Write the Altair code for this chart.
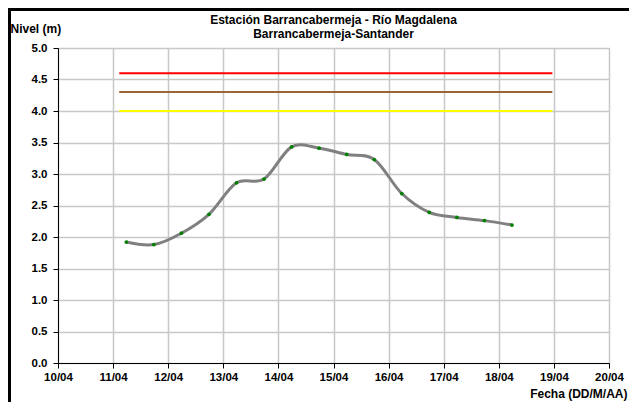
import altair as alt
import pandas as pd

# ---- data ----
fechas = [
    "2011-04-11T05:45", "2011-04-11T17:45",
    "2011-04-12T05:45", "2011-04-12T17:45",
    "2011-04-13T05:45", "2011-04-13T17:45",
    "2011-04-14T05:45", "2011-04-14T17:45",
    "2011-04-15T05:45", "2011-04-15T17:45",
    "2011-04-16T05:45", "2011-04-16T17:45",
    "2011-04-17T05:45", "2011-04-17T17:45",
    "2011-04-18T05:45",
]
niveles = [1.92, 1.88, 2.06, 2.36, 2.86, 2.92, 3.43, 3.41, 3.31, 3.23,
           2.69, 2.39, 2.31, 2.26, 2.19]

umbral_nombres = ["Roja", "Naranja", "Amarilla"]
umbral_valores = [4.6, 4.3, 4.0]
umbral_colores = ["#FF0000", "#996633", "#FFFF00"]
umbral_inicio = "2011-04-11T02:40"
umbral_fin = "2011-04-18T23:20"

dias_eje = [10, 11, 12, 13, 14, 15, 16, 17, 18, 19, 20]
niveles_eje = [0.0, 0.5, 1.0, 1.5, 2.0, 2.5, 3.0, 3.5, 4.0, 4.5, 5.0]

titulo = ["Estación Barrancabermeja - Río Magdalena", "Barrancabermeja-Santander"]

FONT = "Liberation Sans"
W, H = 551, 315

df = pd.DataFrame({"fecha": fechas, "nivel": niveles})
rows = []
for n, v in zip(umbral_nombres, umbral_valores):
    rows.append({"alerta": n, "fecha": umbral_inicio, "nivel": v})
    rows.append({"alerta": n, "fecha": umbral_fin, "nivel": v})
df_u = pd.DataFrame(rows)

x_scale = alt.Scale(
    domain=[alt.DateTime(year=2011, month=4, date=10),
            alt.DateTime(year=2011, month=4, date=20)],
    nice=False,
)
y_scale = alt.Scale(domain=[0, 5], nice=False)

x_axis = alt.Axis(
    values=[alt.DateTime(year=2011, month=4, date=d) for d in dias_eje],
    format="%d/%m",
    title="Fecha (DD/M/AA)",
    titleX=569, titleY=30, titleAlign="right", titleBaseline="middle",
    titleFont=FONT, titleFontSize=12, titleFontWeight="bold", titleColor="black",
    labelFont=FONT, labelFontSize=11.5, labelFontWeight="bold", labelColor="black",
    labelPadding=3, tickSize=5, tickColor="black", domainColor="black",
    grid=True, gridColor="#c8c8c8", gridWidth=1.5, labelFlush=False,
    labelOverlap=False,
)
y_axis = alt.Axis(
    values=niveles_eje,
    format=".1f",
    title="Nivel (m)",
    titleAngle=0, titleX=-48, titleY=-20, titleAlign="left", titleBaseline="middle",
    titleFont=FONT, titleFontSize=12, titleFontWeight="bold", titleColor="black",
    labelFont=FONT, labelFontSize=11.5, labelFontWeight="bold", labelColor="black",
    labelPadding=6, tickSize=5, tickColor="black", domainColor="black",
    grid=True, gridColor="#c8c8c8", gridWidth=1.5, labelOverlap=False,
    labelFlush=False,
)

X = alt.X("fecha:T", scale=x_scale, axis=x_axis)
Y = alt.Y("nivel:Q", scale=y_scale, axis=y_axis)

umbrales = alt.Chart(df_u).mark_line(strokeWidth=2).encode(
    x=X, y=Y,
    color=alt.Color("alerta:N",
                    scale=alt.Scale(domain=umbral_nombres, range=umbral_colores),
                    legend=None),
)

linea = alt.Chart(df).mark_line(color="#808080", strokeWidth=3,
                                interpolate="cardinal").encode(x=X, y=Y)

puntos = alt.Chart(df).mark_circle(color="#008000", size=14, opacity=1).encode(
    x=X, y=Y)

tit1 = alt.Chart(pd.DataFrame({"t": [titulo[0]]})).mark_text(
    font=FONT, fontSize=12, fontWeight="bold", color="black",
    align="center", baseline="middle").encode(
    text="t:N", x=alt.value(W / 2), y=alt.value(-28))
tit2 = alt.Chart(pd.DataFrame({"t": [titulo[1]]})).mark_text(
    font=FONT, fontSize=12, fontWeight="bold", color="black",
    align="center", baseline="middle").encode(
    text="t:N", x=alt.value(W / 2), y=alt.value(-14))

marco = pd.DataFrame({"k": [0]})
borde_izq = alt.Chart(marco).mark_rule(color="black", strokeWidth=3).encode(
    x=alt.value(-48.5), y=alt.value(-40), y2=alt.value(360))
borde_sup = alt.Chart(marco).mark_rule(color="black", strokeWidth=3).encode(
    x=alt.value(-50), x2=alt.value(580), y=alt.value(-38.5))

chart = alt.layer(umbrales, linea, puntos, tit1, tit2, borde_izq, borde_sup).properties(
    width=W,
    height=H,
    autosize=alt.AutoSizeParams(type="none"),
    padding={"left": 50, "top": 40, "right": 20, "bottom": 39},
    background="white",
).configure_view(stroke="#808080", strokeWidth=1)

chart.save("out.html", embed_options={"renderer": "svg", "actions": False})
